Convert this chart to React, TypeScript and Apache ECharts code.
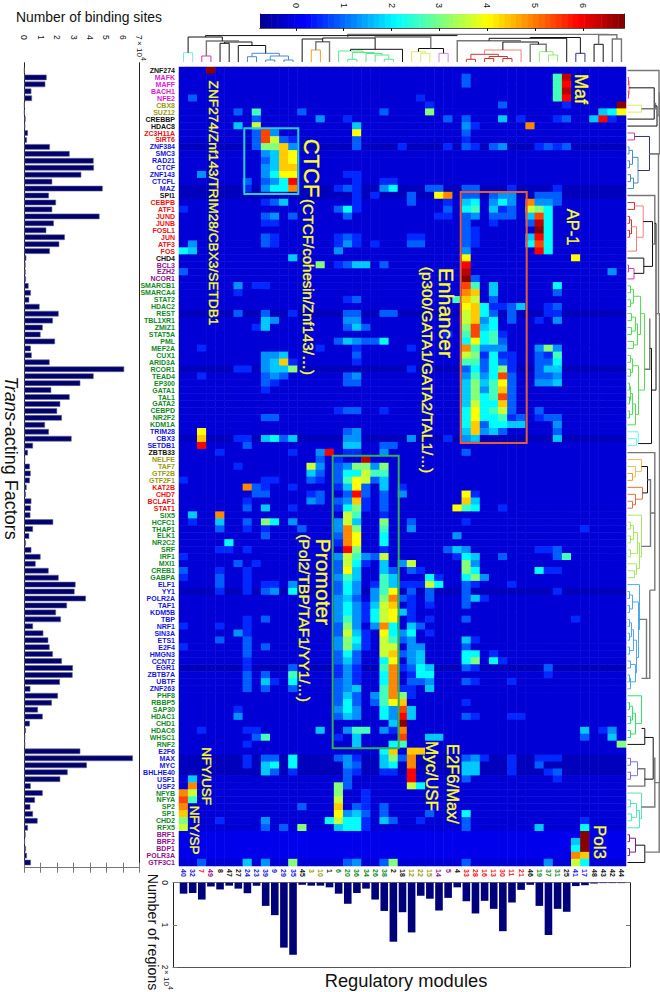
import React, { useEffect, useRef } from "react";
import * as echarts from "echarts";

const FONT = "'Liberation Sans', Arial, sans-serif";

const rowLabels = ["ZNF274","MAFK","MAFF","BACH1","NFE2","CBX8","SUZ12","CREBBP","HDAC8","ZC3H11A","SIRT6","ZNF384","SMC3","RAD21","CTCF","ZNF143","CTCFL","MAZ","SPI1","CEBPB","ATF1","JUND","JUNB","FOSL1","JUN","ATF3","FOS","CHD4","BCL3","EZH2","NCOR1","SMARCB1","SMARCA4","STAT2","HDAC2","REST","TBL1XR1","ZMIZ1","STAT5A","PML","MEF2A","CUX1","ARID3A","RCOR1","TEAD4","EP300","GATA1","TAL1","GATA2","CEBPD","NR2F2","KDM1A","TRIM28","CBX3","SETDB1","ZBTB33","NELFE","TAF7","GTF2B","GTF2F1","KAT2B","CHD7","BCLAF1","STAT1","SIX5","HCFC1","THAP1","ELK1","NR2C2","SRF","IRF1","MXI1","CREB1","GABPA","ELF1","YY1","POLR2A","TAF1","KDM5B","TBP","NRF1","SIN3A","ETS1","E2F4","HMGN3","CCNT2","EGR1","ZBTB7A","UBTF","ZNF263","PHF8","RBBP5","SAP30","HDAC1","CHD1","HDAC6","WHSC1","RNF2","E2F6","MAX","MYC","BHLHE40","USF1","USF2","NFYB","NFYA","SP2","SP1","CHD2","RFX5","BRF1","BRF2","BDP1","POLR3A","GTF3C1"];

const BLK = "#111111", MAG = "#e020d0", OLV = "#9a9a10", RED = "#f01010", BLU = "#1414e0", PUR = "#90108c", GRN = "#0f8a1e";
const rowColorRuns: [number, string][] = [[1,BLK],[4,MAG],[2,OLV],[2,BLK],[2,RED],[7,BLU],[1,BLK],[8,RED],[1,BLK],[3,PUR],[21,GRN],[3,BLU],[1,BLK],[4,OLV],[4,RED],[10,GRN],[16,BLU],[8,GRN],[6,BLU],[6,GRN],[5,PUR]];

const columnLabels = ["40","32","7","49","8","47","27","24","23","39","9","29","35","45","3","10","1","6","20","36","34","26","38","2","18","12","22","15","14","5","4","33","28","16","13","30","11","21","46","19","37","31","25","41","17","48","43","42","44"];
const columnColorRuns: [number, string][] = [[2,BLU],[1,RED],[1,PUR],[3,BLK],[6,BLU],[1,BLK],[2,OLV],[1,BLK],[6,GRN],[2,BLK],[3,OLV],[2,PUR],[1,BLK],[7,RED],[1,BLK],[3,GRN],[1,BLK],[2,BLU],[4,BLK]];

const bindingSites = [0,1.36,1.28,0.43,0.47,0,0,0.08,0.06,0.22,0.16,1.56,2.76,4.22,4.24,3.47,1.7,4.77,1.5,1.93,1.7,4.58,1.8,1.34,2.47,2.13,1.56,0.12,0.08,0.08,0.1,0.26,0.4,0.3,0.93,2.09,1.74,1.12,0.99,1.87,0.4,0.45,1.54,6.08,4.22,3.41,1.64,2.76,2.19,2.0,2.29,1.26,1.5,2.88,0.53,0.22,0.06,0.34,0.39,0.34,0.14,0.1,0.43,0.4,0.37,1.76,0.53,0.3,0.1,0.43,0.99,0.69,1.48,2.09,3.12,3.06,3.75,2.6,1.93,2.23,0.53,1.16,1.46,1.54,1.74,2.29,2.96,2.94,2.17,0.37,2.05,1.68,0.83,1.12,0.34,0.1,0.06,0.06,3.41,6.61,3.81,2.64,2.19,0.39,1.12,0.65,0.37,0.53,0.81,0.22,0.08,0.04,0.1,0.16,0.4];

const regionCounts = [0.26,0.245,0.4,0.09,0.16,0.07,0.14,0.25,0.07,0.55,0.77,1.54,1.71,0.05,0.07,0.07,0.11,0.26,0.5,0.245,0.14,0.4,0.67,1.4,0.7,1.18,0.31,0.38,0.66,0.36,0.11,0.44,0.73,0.43,0.62,1.15,0.47,0.17,0.05,0.55,1.24,0.62,0.69,0.08,0.06,0.02,0.01,0.01,0.01];

// heat levels
const levelValues: Record<string, number> = { "1":0.5,"2":0.9,"3":1.3,"4":1.7,"5":2.1,"6":2.6,"7":3.1,"8":3.6,"9":4.0,a:4.4,b:4.9,c:5.4,d:5.9,e:6.4,f:6.8 };
const darkRows = [11,17,18,35,43,53,75,86,99,100,101];
const brightRows = [110,111,112,113];
const normalLevel = -0.15, darkLevel = -0.36, brightLevel = 0.05;

// [row, "<column><level> ..."]
const leftCells: [number, string][] = [
[0,"3f"],[4,"12"],[6,"62 86 132"],[7,"82 153"],[8,"64 88"],[9,"82 9c 103"],[10,"82 9c 108 112 121"],[11,"82 97 107 11a 123"],[12,"93 104 11a 129"],[13,"92 104 11a 129"],[14,"93 104 11a 12a"],[15,"23 93 105 119 129"],[16,"72 92 103 115 12d"],[17,"71 93 105 115 12b"],[19,"91 102 114"],[20,"01"],[21,"92 103 122"],[22,"91 101"],[24,"92 101"],[25,"13 92 101"],[26,"05 14"],
[27,"124"],[28,"157"],[29,"02"],[31,"63 81 91"],[32,"61"],[35,"62 92 121"],[36,"94 103"],[37,"81 94"],[40,"21 151"],[41,"93 103 114"],[42,"93 104 11a 121"],[43,"61 71 93 104 114 127"],[44,"21 92 103 112"],[45,"92 101"],[46,"91"],[50,"92 102"],[52,"29"],[53,"2a 61 71 94 105 112 124"],[54,"2d 72"],[55,"41 121 153 16d"],[56,"152"],[57,"61 148 153"],[58,"144 152"],[59,"01 91 101 142 151"],[60,"7b 82 91 121"],[61,"82 92 141 152"],
[62,"71 143 152"],[63,"72 94 121"],[64,"14 4b"],[65,"11 44 72 97 105 123"],[66,"42 71 91 132"],[67,"92"],[68,"55"],[69,"41 51 71"],[70,"01"],[71,"62 81"],[72,"02 41 71"],[73,"01 42 71"],[74,"42 71 91 101 123"],[75,"41 71 92 103 125"],[79,"71 92"],[80,"01 41 71"],[81,"63 71"],[82,"42 72"],[83,"01 72 92"],[84,"72"],[85,"71"],[86,"71 122"],[87,"72 92 126"],[88,"72 94 101 125"],[89,"72 92 122"],[92,"61"],[93,"63"],[95,"21 71 81 154"],[96,"82 96"],[97,"71"],
[99,"71 92 102 125"],[100,"71 94 105 125"],[101,"94 102 121"],[102,"14"],[103,"1b"],[104,"0b 18"],[105,"0c 16"],[106,"0b 132"],[107,"0a"],[108,"07 41 93 165"],[109,"08 92 112 137"],[114,"22 74 93 127"]
];
const rightCells: [number, string][] = [
[1,"312 416 42e"],[2,"312 416 42d"],[3,"416 42e"],[4,"261 416 42d"],[5,"271 352 421 48f"],[6,"222 277 464 475 489"],[7,"181 292 312 354 371 411 422 454 46d 471"],[8,"194 313 321 38b"],[9,"199 312"],[10,"192 311"],[11,"192 241 291 312 321 342 353 391 402 411 422"],[15,"181 191"],[16,"191 221 231"],[17,"171 182 191 223 235 271 272 282 312 322 361 411"],[18,"191 211 252 289 29b 312 322 342 353 363 392 402 412"],[19,"191 252 291 314 325 343 355 363 38b 393 403 412"],[20,"172 185 191 292 315 326 344 351 362 388 397 405"],[21,"182 281 291 312 323 342 352 362 384 39c 405"],[22,"312 341 382 39e 405"],[23,"312 321 39f 405"],[24,"171 182 191 251 261 312 321 384 39d 405"],[25,"171 183 191 211 252 262 312 321 385 39c 405"],[26,"173 313 39d 405"],
[27,"319 439"],[28,"171 182 194 204 222 31d"],[29,"31e 473"],[30,"31f 322"],[31,"31c 326 344 415"],[32,"31b 32a 344 412"],[33,"181 192 306 31a 328 342"],[34,"319 32a 335 341 351 362 374 401 412"],[35,"182 192 222 232 318 32a 335 342 362 401 411"],[36,"183 193 318 32a 333 345 362 391 413"],[37,"182 194 202 317 32c 334 345"],[38,"291 316 32c 335 346 351"],[39,"172 184 193 202 212 225 315 329 335 346 352"],[40,"191 251 31b 326 333 343 353 393 407 413"],[41,"192 318 327 331 345 351 361 392 401 416"],[42,"191 316 326 332 345 352 361 392 402 415"],[43,"251 312 325 332 345 357 361 392 404 414"],[44,"182 193 313 326 333 345 35c 362 392 402 413"],[45,"182 192 314 327 334 346 359 362 393 403 414"],[46,"314 327 333 346 35a 362"],[47,"314 327 335 346 35c 362"],[48,"314 328 335 345 35a 362"],[49,"171 182 192 221 315 329 335 346 358 362 392"],[50,"315 329 335 345 356 361 372 391 402 412"],[51,"315 32a 332 345 355 364 374 413"],[52,"182 193 314 32a 333 344 352 412"],[53,"183 193 253 291 313 324 414"],[54,"184 194 222 232"],[55,"181 191 223 312"],
[56,"171 20e"],[57,"172 183 197 207 213 227"],[58,"172 185 195 208 216 226"],[59,"172 186 199 208 212 224"],[60,"171 184 199 202 224 241"],[61,"182 19d 202 222 243 319 321"],[62,"172 183 19a 201 222 31a 324"],[63,"171 185 197 201 222 309 316 325 351"],[64,"188 196 221"],[65,"173 188 194 227 252 311"],[66,"173 18b 197 226 253 441"],[67,"172 18b 199 225 303"],[68,"171 18b 199 225"],[69,"18d 197 221 292 304 313 391 401 412"],[70,"173 188 196 203 212 228 301 315 324 352 412 426"],[71,"172 188 195 201 224 243 258 317 323"],[72,"172 189 194 224 232 252 261 317 325 395 401 411"],[73,"173 186 194 226 234 275 281 315 327 333"],[74,"172 185 193 211 226 234 241 251 261 278 285 312 321 361"],[75,"172 185 193 213 226 239 252 272 312 411"],[76,"173 184 192 213 227 23b 242 251 272 312 324 331"],[77,"173 185 193 201 214 228 23a 251 271 312"],[78,"173 185 193 201 215 228 239 244 251"],[79,"173 186 193 201 215 228 239 251 271 312 431"],[80,"172 187 193 213 22b 235 254 262"],[81,"172 188 194 201 229 235 243 255 271"],[82,"173 187 195 201 228 236 242 253 314 321"],[83,"173 187 194 201 228 238 253 263 312"],[84,"172 185 192 228 23a 242 253 264 315 325 341"],[85,"172 184 192 225 239 253 264 315 327 345 351"],[86,"171 183 191 226 23b 241 252 265 274 312 321 402"],[87,"171 183 191 225 23b 251 265 275 401"],[88,"172 183 191 225 23b 252 262 273 312 321 361"],[89,"172 183 194 226 23b 241 251 274"],[90,"172 184 192 213 226 23b 247 251"],[91,"172 185 192 212 226 239 24a 311"],[92,"173 185 193 225 233 24c 254"],[93,"172 184 193 225 233 24d 254 312 321 361 371"],[94,"234 24f"],[95,"183 196 206 223 231 24b 444 461 473"],[96,"171 194 24c 274 284 442 474"],[97,"194 235 246 487"],
[98,"225 23a 25a 26a"],[99,"172 183 191 224 237 242 25b 312 323 331 361 391 401 411"],[100,"183 192 224 235 25b 314 324 361 392"],[101,"182 191 221 231 25d 314 324 361 401 412"],[102,"182 25d 312 411"],[103,"177 182 258 265"],[104,"177 201"],[105,"178 201"],[106,"17a 192 201 222"],[107,"179 183 194 202 222 272 315"],[108,"165 178 185 195 201 224 232 261 312 441"],[109,"174 185 195 201 312 394 445"],[110,"44f"],[111,"434 44f"],[112,"435 44f"],[113,"43b 44a"],[114,"182 193 222 237 312 403 438 445"]
];

const dendroPalette = ["#111111","#777777","#7ce8e0","#d838a8","#4c88cc","#e8a030","#55e890","#e4e860","#d088e8","#d83030","#f08078","#90ee70","#303090","#f04878","#50e050","#70f0f0","#e8c060","#e87040","#a8e860","#50a8f0","#30e070","#7878d8","#50e8c0","#802090"];

// [leaf A, leaf B, height A, height B, join height, colour]
const topLinks: number[][] = [
[0,1,0,0,9.3,2],[2,3,0,0,6,3],[4,5,0,0,18.7,0],[7,8,0,0,5.3,4],[9,10,0,0,2,4],[11,12,0,0,2,4],[9.5,11.5,2,2,6,4],[7.5,10.5,5.3,6,8.7,4],[6,9,0,8.7,16.5,0],[4.5,7.5,18.7,16.5,20,0],[2.5,6,6,20,21,1],[0.5,4.25,9.3,21,25,0],
[14,15,0,0,12,5],[14.5,16,12,0,20.3,1],[13,15.25,0,20.3,23,0],
[18,19,0,0,2.7,6],[22,23,0,0,2.7,6],[21,22.5,0,2.7,7,6],[20,21.75,0,7,8.5,6],[18.5,20.9,2.7,8.5,9.5,6],[17,19.7,0,9.5,11,6],[18.3,24,11,0,12.7,0],[15.25,21,23,12.7,24,0],
[26,27,0,0,8.7,7],[25,26.5,0,8.7,10.3,7],[28,29,0,0,8.7,8],[25.75,28.5,10.3,8.7,13.5,0],[21,27.1,24,13.5,25,1],
[31,32,0,0,2.7,9],[33,34,0,0,3.5,9],[35,36,0,0,3.5,9],[33.5,35.5,3.5,3.5,5.5,9],[31.5,34.5,2.7,5.5,7.7,9],[33,37,7.7,0,12,10],[40,41,0,0,7,11],[39,40.5,0,7,10.3,11],[38,39.75,0,10.3,17.7,1],[35,38.9,12,17.7,20,0],[30,36.9,0,20,21.3,1],[33.5,42,21.3,0,23.7,0],
[43,44,0,0,8.7,12],[43.5,38,8.7,23.7,24.5,0],[45,46,0,0,17.7,0],[47,48,0,0,23,1],[45.5,47.5,17.7,23,27.3,1],[18,46.5,25,27.3,27.6,1],[2.4,30,25,26,26.4,0]
];
const rightLinks: number[][] = [
[1,2,0,0,1,13],[3,4,0,0,1,13],[1.5,3.5,1,1,1.5,13],[5,6,0,0,14,7],[2.5,7,1.5,0,26.7,0],[4.75,5.5,26.7,14,28,1],[5.1,8,28,0,29.5,0],[0,6.5,0,29.5,31.5,1],
[9,10,0,0,7,3],[11,12,0,0,1.5,4],[13,14,0,0,2,4],[15,16,0,0,3,4],[11.5,13.5,1.5,2,5,4],[15.5,17,3,0,6,4],[12.5,16.2,5,6,10.5,4],[9.5,14.4,7,10.5,22,12],[3.2,12,31.5,22,32,1],
[19,20,0,0,7,9],[21,22,0,0,2,9],[23,24,0,0,2,9],[21.5,23.5,2,2,4,9],[22.5,26,4,0,9,10],[19.5,24,7,9,15.7,10],[28,29,0,0,1,3],[28.5,30,1,0,6.5,3],[27,29.2,0,6.5,16.3,0],[21.75,28.2,15.7,16.3,25,0],[18,25,0,25,27.3,1],
[31,32,0,0,3,14],[33,34,0,0,3,14],[35,36,0,0,4,14],[37,38,0,0,4,14],[39,40,0,0,6,14],[31.5,33.5,3,3,6,14],[35.5,37.5,4,4,8,14],[36.5,39.5,8,6,10,14],[32.5,38,6,10,13,14],[41,42,0,0,3,14],[43,44,0,0,3,14],[45,46,0,0,2,14],[47,48,0,0,2,14],[49,50,0,0,2,14],[45.5,47.5,2,2,3,14],[46.5,49.5,3,2,5,14],[48,51,5,0,8,14],[41.5,43.5,3,3,5,14],[42.5,49.5,5,8,11,14],[35,46,13,11,17,14],[35.7,43,22.3,17,22.3,1],
[53,54,0,0,9,15],[52,53.5,0,9,10.7,15],[40,53.7,22.3,10.7,24,0],[22,46,27.3,24,28.5,0],[12,35,22,28.5,31,1],
[58,59,0,0,5,5],[57,58.5,0,5,8,16],[56,57.7,0,8,14,16],[62,63,0,0,5,17],[61,62.5,0,5,8,17],[60,61.7,0,8,15,17],[57,60.8,14,15,20,0],
[65,66,0,0,3,18],[67,68,0,0,3,18],[69,70,0,0,3,18],[65.5,67.5,3,3,6,18],[66.5,69.5,6,3,10,18],[72,73,0,0,7,18],[71,72.5,0,7,9,18],[68,71.7,10,9,12,18],[64,70,0,12,14,18],[58.9,68.5,20,14,23,1],[55,63.7,0,23,27.3,1],
[75,76,0,0,2,19],[77,78,0,0,2,19],[79,80,0,0,2,19],[81,82,0,0,2,19],[83,84,0,0,2,19],[85,86,0,0,3,19],[87,88,0,0,2,19],[87.5,89,2,0,3,19],[85.5,88,3,3,8,19],[75.5,77.5,2,2,5,19],[79.5,81.5,2,2,4,19],[80.5,83.5,4,2,6,19],[82,86.7,6,8,9,19],[76.5,84.5,5,9,11,19],[74,80.5,0,11,12,19],
[91,92,0,0,2,20],[93,94,0,0,3,20],[95,96,0,0,3,20],[91.5,93.5,2,3,5,20],[92.5,95.5,5,3,8,20],[90,94,0,8,14,20],[94.7,97,14,0,17.3,0],[79,87.5,12,14,19,1],[74.8,87.5,22.3,19,22.3,1],[63.7,74.8,27.3,22.3,27.3,1],
[99,100,0,0,3,21],[101,102,0,0,3,21],[99.5,101.5,3,3,10,21],[100.5,103,10,0,17.3,1],[96,102,17.3,17.3,25.7,0],[105,106,0,0,3,22],[107,108,0,0,4,22],[105.5,107.5,3,4,9,22],[106.5,109,9,0,12,22],[104,107.7,0,12,14,22],[99,106,25.7,14,27.3,1],
[110,111,0,0,2,23],[112,113,0,0,2,23],[110.5,112.5,2,2,8,23],[111.5,114,8,0,17.3,0],[102.5,112.5,27.3,17.3,31.7,1],[35,102.5,31,31.7,32,1]
];

const colorbarTicks = [0,1,2,3,4,5,6];
const scaleMin = -0.75, scaleMax = 6.86;
const jetStops = ["#00008f","#0000ff","#007fff","#00ffff","#7fff7f","#ffff00","#ff7f00","#ff0000","#800000"];

const expandRuns = (runs: [number, string][]) => runs.flatMap(([n, c]) => Array(n).fill(c));
const rowColors = expandRuns(rowColorRuns);
const columnColors = expandRuns(columnColorRuns);

function buildHeat() {
  const grid = rowLabels.map((_, r) => columnLabels.map(() => darkRows.includes(r) ? darkLevel : brightRows.includes(r) ? brightLevel : normalLevel));
  [...leftCells, ...rightCells].forEach(([r, s]) => s.split(" ").forEach((t) => {
    const c = Number(t.slice(0, -1));
    grid[r][c] = levelValues[t.slice(-1)];
  }));
  return grid.flatMap((row, r) => row.map((v, c) => [c, r, v]));
}

function jet(v: number) {
  const t = Math.min(0.9999, Math.max(0, (v - scaleMin) / (scaleMax - scaleMin))) * (jetStops.length - 1);
  const i = Math.floor(t), f = t - i;
  const p = (h: string) => [1, 3, 5].map((k) => parseInt(h.slice(k, k + 2), 16));
  const a = p(jetStops[i]), b = p(jetStops[i + 1]);
  return `rgb(${a.map((x, k) => Math.round(x + (b[k] - x) * f)).join(",")})`;
}

const YEL = "#ffff28";
const downText = (text: string, x: number, y: number, size: number, fill = YEL, extra: any = {}) => ({
  type: "text", x, y, rotation: -Math.PI / 2, silent: true, z: 50,
  style: { text, fontSize: size, fontFamily: FONT, fill, align: "center", verticalAlign: "middle", ...(fill === YEL ? { stroke: YEL, lineWidth: 0.35 } : {}), ...extra },
});
const box = (x: number, y: number, w: number, h: number, stroke: string) => ({
  type: "rect", shape: { x, y, width: w, height: h }, silent: true, z: 49, style: { fill: "none", stroke, lineWidth: 2 },
});

const AXC = "#222", TICK = "#777";
const hiddenValue = (gridIndex: number, extra: any = {}) => ({ type: "value", gridIndex, show: false, ...extra });
const lineOnly = (gridIndex: number, position: string, min = 0, max = 1, color = AXC) => ({
  type: "value", gridIndex, position, min, max, splitLine: { show: false }, axisTick: { show: false }, axisLabel: { show: false },
  axisLine: { show: true, onZero: false, lineStyle: { color, width: 1 } },
});

function buildOption() {
  const grids = [
    { left: 179, top: 67, width: 447, height: 799 },
    { left: 24.3, top: 67, width: 115, height: 799 },
    { left: 24.3, top: 62.7, width: 115, height: 805 },
    { left: 179, top: 882.7, width: 447, height: 84.3 },
    { left: 173, top: 882.7, width: 457, height: 84.3 },
    { left: 260, top: 12, width: 364, height: 16 },
    { left: 179, top: 33, width: 447, height: 29 },
    { left: 627.5, top: 67, width: 32, height: 799 },
  ];
  const numberLabel = { fontSize: 8.5, fontFamily: FONT, color: "#111", rotate: -90 };
  const xAxis: any[] = [
    { type: "category", gridIndex: 0, data: columnLabels, position: "bottom", axisLine: { show: false }, axisTick: { show: false },
      axisLabel: { interval: 0, rotate: -90, fontSize: 7, fontWeight: "bold", fontFamily: FONT, margin: 3, hideOverlap: false, color: (_: any, i: number) => columnColors[i] } },
    hiddenValue(1, { min: 0, max: 7 }),
    { type: "value", gridIndex: 2, position: "top", min: 0, max: 7, interval: 1, splitLine: { show: false }, axisLine: { show: true, lineStyle: { color: TICK } },
      axisTick: { inside: true, length: 5, lineStyle: { color: TICK } }, axisLabel: { ...numberLabel, margin: 23 } },
    { type: "value", gridIndex: 2, position: "bottom", min: 0, max: 7, interval: 1, splitLine: { show: false }, axisLine: { show: true, lineStyle: { color: TICK } },
      axisTick: { inside: true, length: 5, lineStyle: { color: TICK } }, axisLabel: { show: false } },
    { type: "category", gridIndex: 3, data: columnLabels, position: "bottom", axisLine: { show: false },
      axisTick: { inside: true, alignWithLabel: true, length: 4, interval: 0, lineStyle: { color: TICK } }, axisLabel: { show: false } },
    { type: "category", gridIndex: 3, data: columnLabels, position: "top", axisLine: { show: false },
      axisTick: { inside: true, alignWithLabel: true, length: 3, interval: 0, lineStyle: { color: TICK } }, axisLabel: { show: false } },
    lineOnly(4, "top", 0, 1, TICK),
    lineOnly(4, "bottom", 0, 1, "#555"),
    { type: "value", gridIndex: 5, position: "top", min: scaleMin, max: scaleMax, splitLine: { show: false }, axisLine: { show: true, lineStyle: { color: "#222" } },
      axisTick: { inside: true, length: 3, customValues: colorbarTicks, lineStyle: { color: "#111" } }, axisLabel: { ...numberLabel, fontSize: 9, margin: 6, customValues: colorbarTicks, showMinLabel: true, showMaxLabel: true } },
    { type: "value", gridIndex: 5, position: "bottom", min: scaleMin, max: scaleMax, splitLine: { show: false }, axisLine: { show: true, lineStyle: { color: "#555" } },
      axisTick: { inside: true, length: 3, customValues: colorbarTicks, lineStyle: { color: "#111" } }, axisLabel: { show: false } },
    hiddenValue(6, { min: -0.5, max: 48.5 }),
    hiddenValue(7, { min: 0, max: 32 }),
  ];
  const yAxis: any[] = [
    { type: "category", gridIndex: 0, data: rowLabels, inverse: true, axisLine: { show: false }, axisTick: { show: false },
      axisLabel: { interval: 0, fontSize: 7, fontWeight: "bold", fontFamily: FONT, margin: 4, hideOverlap: false, color: (_: any, i: number) => rowColors[i] } },
    { type: "category", gridIndex: 1, data: rowLabels, inverse: true, show: false },
    lineOnly(2, "left"),
    lineOnly(2, "right"),
    { type: "value", gridIndex: 3, inverse: true, min: 0, max: 2, show: false },
    { type: "value", gridIndex: 4, position: "left", inverse: true, min: 0, max: 2, interval: 1, splitLine: { show: false }, axisLine: { show: true, onZero: false, lineStyle: { color: AXC } },
      axisTick: { inside: true, length: 4, lineStyle: { color: TICK } }, axisLabel: { ...numberLabel, margin: 4 } },
    { type: "value", gridIndex: 4, position: "right", inverse: true, min: 0, max: 2, interval: 1, splitLine: { show: false }, axisLine: { show: true, onZero: false, lineStyle: { color: AXC } },
      axisTick: { inside: true, length: 4, lineStyle: { color: TICK } }, axisLabel: { show: false } },
    lineOnly(5, "left"),
    lineOnly(5, "right"),
    hiddenValue(6, { min: 0, max: 29 }),
    hiddenValue(7, { min: -0.5, max: 114.5, inverse: true }),
  ];
  const series: any[] = [
    { type: "heatmap", xAxisIndex: 0, yAxisIndex: 0, data: buildHeat(), silent: true, itemStyle: { borderWidth: 0 }, emphasis: { disabled: true } },
    { type: "bar", xAxisIndex: 1, yAxisIndex: 1, data: bindingSites, barWidth: 5.6, silent: true, itemStyle: { color: "#00006e", borderColor: "#6a6a80", borderWidth: 0.6 } },
    { type: "scatter", xAxisIndex: 2, yAxisIndex: 2, data: [], silent: true },
    { type: "scatter", xAxisIndex: 3, yAxisIndex: 3, data: [], silent: true },
    { type: "bar", xAxisIndex: 4, yAxisIndex: 4, data: regionCounts, barWidth: 7.6, silent: true, itemStyle: { color: "#00007a" } },
    { type: "custom", xAxisIndex: 8, yAxisIndex: 7, silent: true,
      data: Array.from({ length: 64 }, (_, i) => [scaleMin + (i * (scaleMax - scaleMin)) / 64, scaleMin + ((i + 1) * (scaleMax - scaleMin)) / 64]),
      renderItem: (_: any, api: any) => {
        const a = api.coord([api.value(0), 0]), b = api.coord([api.value(1), 1]);
        return { type: "rect", shape: { x: a[0], y: b[1], width: b[0] - a[0] + 0.5, height: a[1] - b[1] }, style: { fill: jet((api.value(0) + api.value(1)) / 2) } };
      } },
    { type: "custom", xAxisIndex: 10, yAxisIndex: 9, silent: true, clip: false, data: topLinks,
      renderItem: (_: any, api: any) => {
        const [x1, x2, h1, h2, top, c] = [0, 1, 2, 3, 4, 5].map((i) => api.value(i));
        const points = [[x1, h1], [x1, top], [x2, top], [x2, h2]].map((p) => api.coord(p));
        return { type: "polyline", shape: { points }, style: { stroke: dendroPalette[c], fill: "none", lineWidth: c === 1 ? 1.4 : 1 } };
      } },
    { type: "custom", xAxisIndex: 11, yAxisIndex: 10, silent: true, clip: false, data: rightLinks,
      renderItem: (_: any, api: any) => {
        const [r1, r2, h1, h2, top, c] = [0, 1, 2, 3, 4, 5].map((i) => api.value(i));
        const points = [[h1, r1], [top, r1], [top, r2], [h2, r2]].map((p) => api.coord(p));
        return { type: "polyline", shape: { points }, style: { stroke: dendroPalette[c], fill: "none", lineWidth: c === 1 ? 1.4 : 1 } };
      } },
  ];
  const black = "#111";
  const graphic: any[] = [
    box(244.3, 128.3, 54, 65.7, "#22d0d8"),
    box(460.7, 192, 66, 251, "#e85a30"),
    box(332.7, 455.7, 66, 292.6, "#30b058"),
    downText("ZNF274/Znf143/TRIM28/CBX3/SETDB1", 213, 203, 13.7),
    downText("CTCF", 311, 168, 22),
    downText("(CTCF/cohesin/Znf143/…)", 308, 287, 15),
    downText("Maf", 581, 89, 18),
    downText("AP-1", 573, 227, 16.5),
    downText("Enhancer", 446, 313, 21),
    downText("(p300/GATA1/GATA2/TAL1/...)", 427, 370, 15.4),
    downText("Promoter", 323, 582, 21),
    downText("(Pol2/TBP/TAF1/YY1/...)", 304, 618, 15.5),
    downText("E2F6/Max/", 453, 784, 16.5),
    downText("Myc/USF", 431, 776, 17),
    downText("Pol3", 599, 842, 17),
    downText("NFY/USF", 206, 776, 13.5),
    downText("NFY/SP", 194, 830, 13.5),
    { type: "text", x: 16, y: 17, silent: true, style: { text: "Number of binding sites", fontSize: 13.9, fontFamily: FONT, fill: black, align: "left", verticalAlign: "middle" } },
    { type: "text", x: 406, y: 980, silent: true, style: { text: "Regulatory modules", fontSize: 18.3, fontFamily: FONT, fill: black, align: "center", verticalAlign: "middle" } },
    downText("Number of regions", 153, 932, 14.2, black),
    { type: "text", x: 11, y: 458, rotation: -Math.PI / 2, silent: true, style: { text: "{i|Trans}-acting Factors", fontSize: 18, fontFamily: FONT, fill: black, align: "center", verticalAlign: "middle", rich: { i: { fontStyle: "italic", fontSize: 18, fontFamily: FONT, fill: black } } } },
    downText("× 10", 139, 49, 8, black),
    downText("4", 143, 59, 7, black),
    downText("× 10", 166, 978, 8, black),
    downText("4", 170, 988, 7, black),
  ];
  return {
    animation: false,
    backgroundColor: "#fff",
    grid: grids,
    xAxis,
    yAxis,
    visualMap: { show: false, seriesIndex: 0, dimension: 2, min: scaleMin, max: scaleMax, inRange: { color: jetStops } },
    series,
    graphic,
  };
}

export default function App() {
  const ref = useRef<HTMLDivElement>(null);
  useEffect(() => {
    const chart = echarts.init(ref.current!, undefined, { renderer: "svg" });
    chart.setOption(buildOption() as any);
    return () => chart.dispose();
  }, []);
  return <div ref={ref} style={{ position: "absolute", left: 0, top: 0, width: 660, height: 992 }} />;
}
